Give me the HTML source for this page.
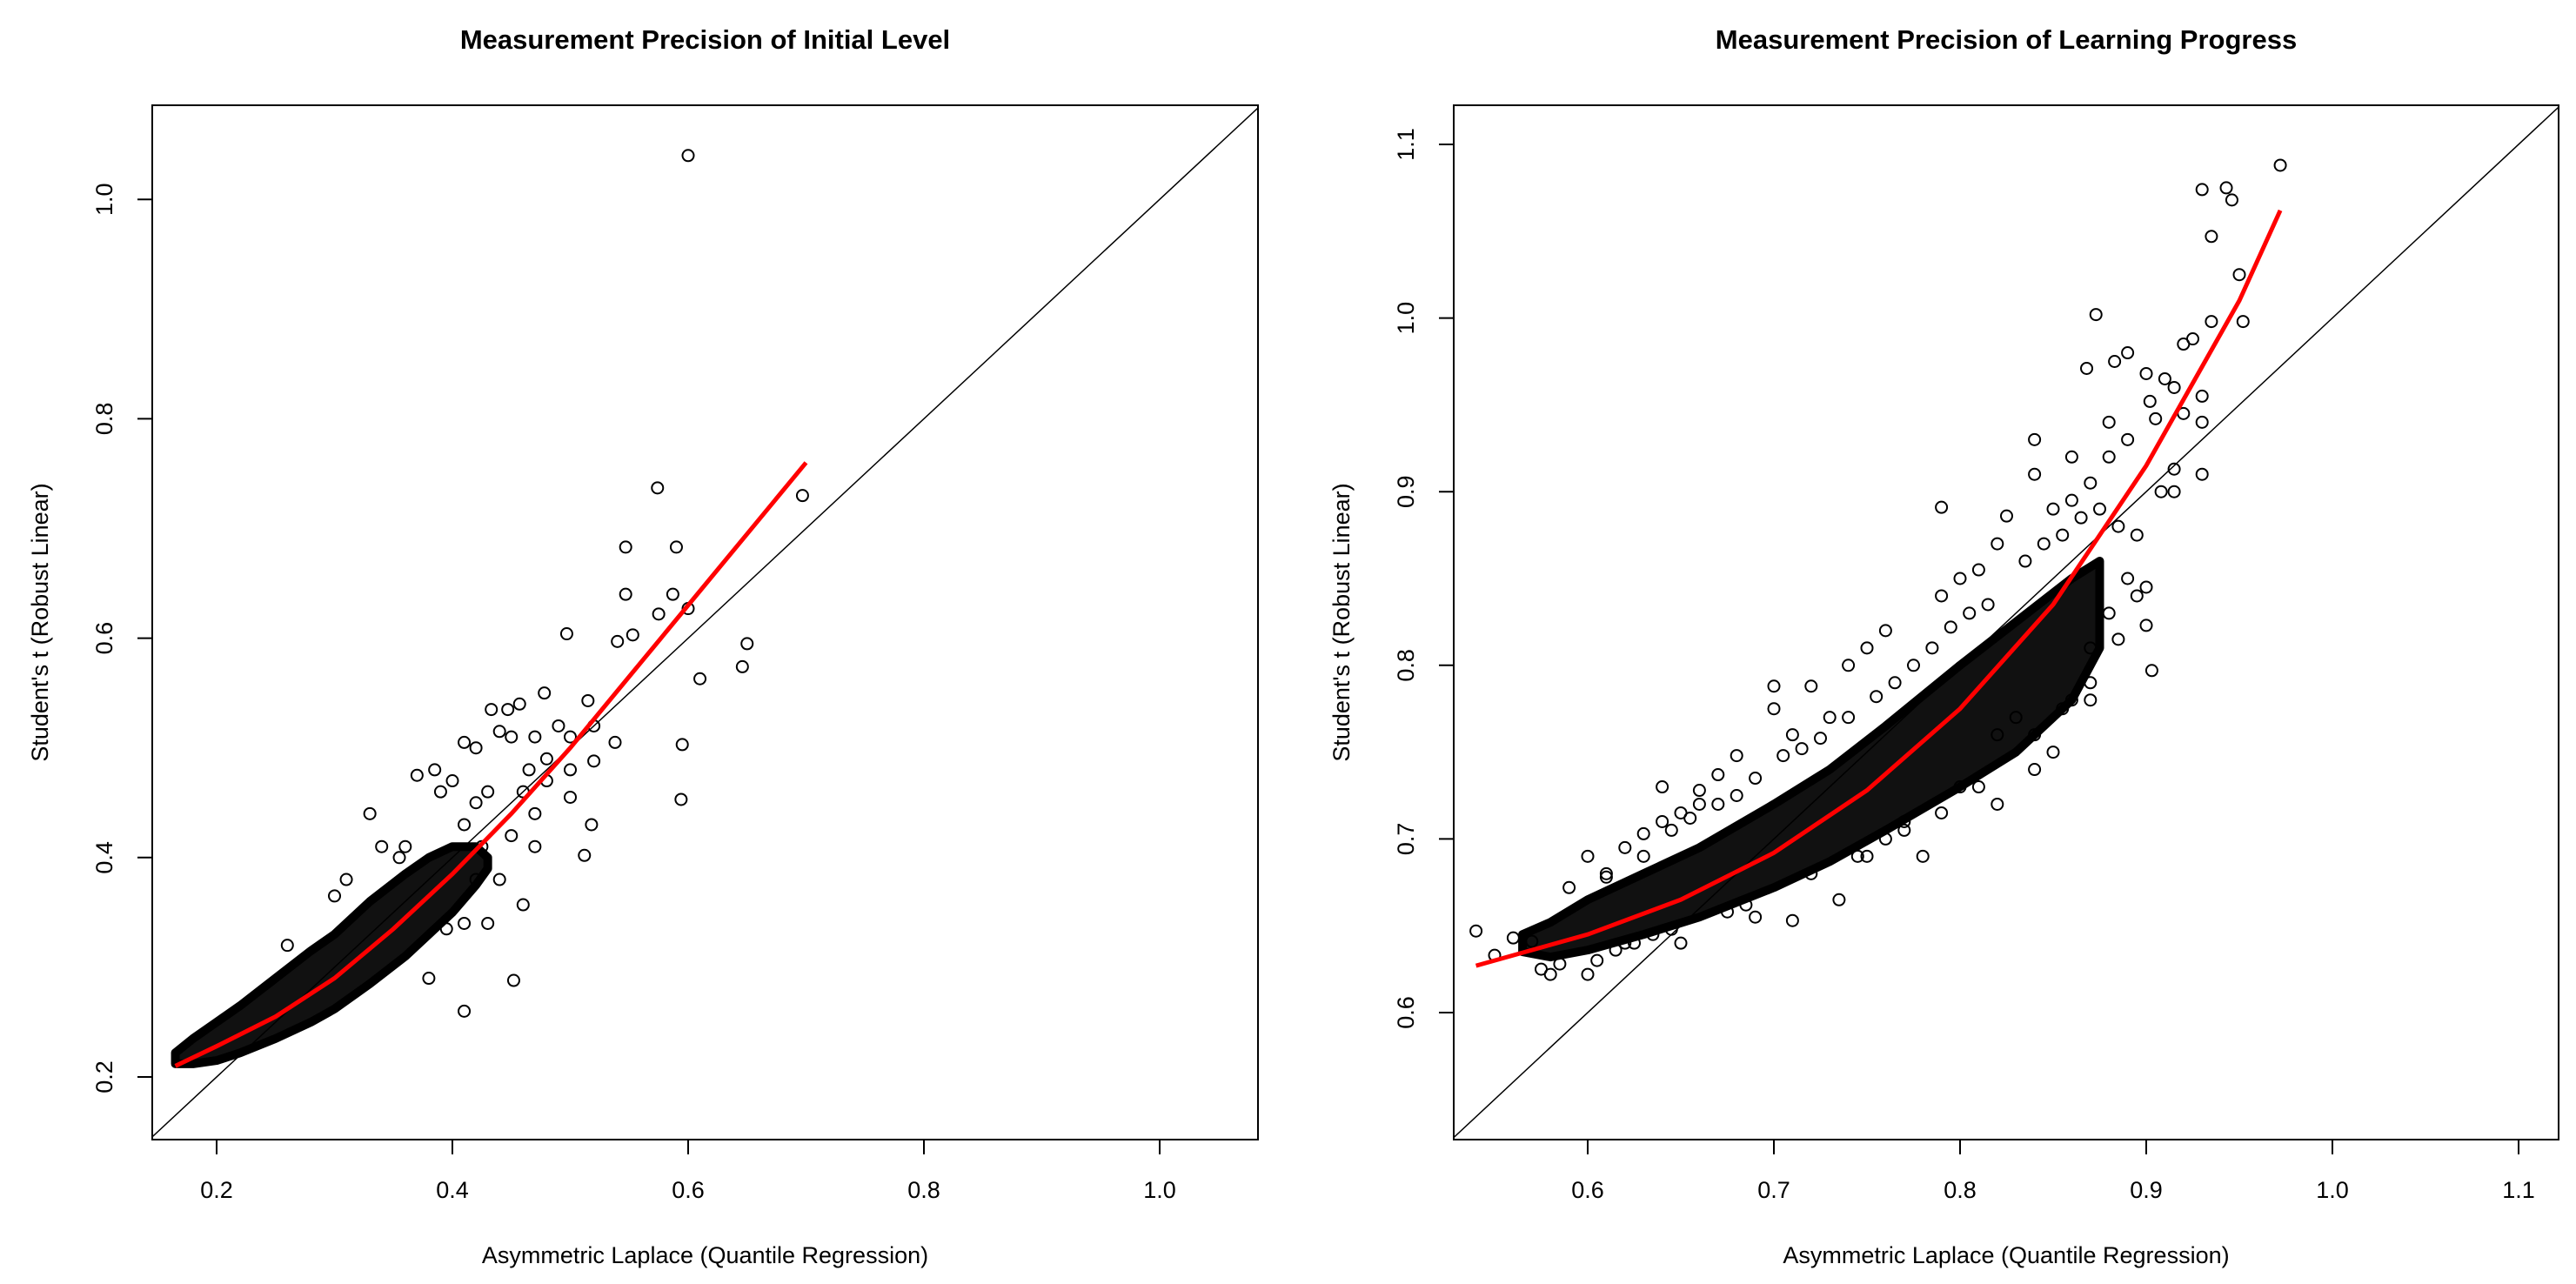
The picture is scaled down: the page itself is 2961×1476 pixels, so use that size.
<!DOCTYPE html>
<html><head><meta charset="utf-8"><style>
html,body{margin:0;padding:0;background:#fff;overflow:hidden}
svg{display:block}
svg text{font-family:"Liberation Sans",sans-serif;fill:#000}
</style></head><body>
<svg id="svg" width="2961" height="1476" xmlns="http://www.w3.org/2000/svg"></svg>
<script>
// ---- Left chart data ----
const L_xticks=[0.2,0.4,0.6,0.8,1.0];
const L_yticks=[0.2,0.4,0.6,0.8,1.0];
const L_bandX=[0.165,0.18,0.2,0.22,0.25,0.28,0.3,0.33,0.36,0.38,0.4,0.42,0.43];
const L_bandLo=[0.212,0.212,0.215,0.222,0.235,0.25,0.262,0.285,0.31,0.33,0.35,0.375,0.39];
const L_bandHi=[0.222,0.235,0.25,0.265,0.29,0.315,0.33,0.36,0.385,0.4,0.41,0.41,0.4];
const L_ptsX=[0.6,0.574,0.697,0.547,0.59,0.547,0.587,0.575,0.6,0.497,0.54,0.553,0.65,0.646,0.61,0.478,0.433,0.447,0.457,0.515,0.595,0.538,0.52,0.594,0.518,0.512,0.41,0.452,0.38,0.33,0.46,0.37,0.385,0.44,0.45,0.47,0.49,0.5,0.48,0.5,0.47,0.465,0.43,0.42,0.41,0.47,0.42,0.4,0.44,0.425,0.39,0.36,0.34,0.355,0.31,0.3,0.26,0.43,0.42,0.45,0.41,0.46,0.48,0.395,0.41,0.5,0.52];
const L_ptsY=[1.04,0.737,0.73,0.683,0.683,0.64,0.64,0.622,0.627,0.604,0.597,0.603,0.595,0.574,0.563,0.55,0.535,0.535,0.54,0.543,0.503,0.505,0.488,0.453,0.43,0.402,0.26,0.288,0.29,0.44,0.357,0.475,0.48,0.515,0.51,0.51,0.52,0.48,0.49,0.455,0.44,0.48,0.46,0.5,0.505,0.41,0.45,0.47,0.38,0.41,0.46,0.41,0.41,0.4,0.38,0.365,0.32,0.34,0.38,0.42,0.43,0.46,0.47,0.335,0.34,0.51,0.52];
const L_fitX=[0.165,0.2,0.25,0.3,0.35,0.4,0.45,0.5,0.55,0.6,0.65,0.7];
const L_fitY=[0.21,0.228,0.255,0.29,0.335,0.385,0.44,0.5,0.565,0.63,0.695,0.76];
// ---- Right chart data ----
const R_xticks=[0.6,0.7,0.8,0.9,1.0,1.1];
const R_yticks=[0.6,0.7,0.8,0.9,1.0,1.1];
const R_bandX=[0.565,0.58,0.6,0.63,0.66,0.7,0.73,0.76,0.8,0.83,0.86,0.875];
const R_bandLo=[0.635,0.632,0.636,0.645,0.655,0.672,0.687,0.705,0.73,0.75,0.78,0.81];
const R_bandHi=[0.645,0.652,0.665,0.68,0.695,0.72,0.74,0.765,0.8,0.825,0.85,0.86];
const R_ptsX=[0.972,0.93,0.943,0.946,0.935,0.95,0.935,0.952,0.873,0.868,0.883,0.89,0.9,0.92,0.925,0.915,0.91,0.93,0.902,0.93,0.92,0.905,0.88,0.84,0.84,0.86,0.93,0.915,0.908,0.915,0.79,0.9,0.9,0.903,0.87,0.82,0.78,0.7,0.7,0.72,0.68,0.64,0.54,0.55,0.56,0.57,0.6,0.58,0.62,0.63,0.71,0.735,0.67,0.66,0.88,0.89,0.87,0.86,0.85,0.825,0.82,0.81,0.8,0.85,0.84,0.86,0.87,0.88,0.89,0.895,0.76,0.75,0.74,0.79,0.65,0.64,0.66,0.6,0.61,0.71,0.73,0.76,0.77,0.8,0.82,0.83,0.69,0.65,0.62,0.75,
 0.59,0.61,0.63,0.645,0.655,0.67,0.68,0.69,0.705,0.715,0.725,0.74,0.755,0.765,0.775,0.785,0.795,0.805,0.815,0.835,0.845,0.855,0.865,0.875,0.885,0.575,0.585,0.605,0.615,0.625,0.635,0.645,0.675,0.685,0.72,0.745,0.77,0.79,0.81,0.84,0.855,0.87,0.885,0.895];
const R_ptsY=[1.088,1.074,1.075,1.068,1.047,1.025,0.998,0.998,1.002,0.971,0.975,0.98,0.968,0.985,0.988,0.96,0.965,0.955,0.952,0.94,0.945,0.942,0.94,0.93,0.91,0.92,0.91,0.913,0.9,0.9,0.891,0.845,0.823,0.797,0.81,0.72,0.69,0.788,0.775,0.788,0.748,0.73,0.647,0.633,0.643,0.641,0.622,0.622,0.695,0.703,0.653,0.665,0.737,0.728,0.92,0.93,0.905,0.895,0.89,0.886,0.87,0.855,0.85,0.75,0.74,0.78,0.78,0.83,0.85,0.875,0.82,0.81,0.8,0.84,0.715,0.71,0.72,0.69,0.68,0.76,0.77,0.7,0.71,0.73,0.76,0.77,0.655,0.64,0.64,0.69,
 0.672,0.678,0.69,0.705,0.712,0.72,0.725,0.735,0.748,0.752,0.758,0.77,0.782,0.79,0.8,0.81,0.822,0.83,0.835,0.86,0.87,0.875,0.885,0.89,0.88,0.625,0.628,0.63,0.636,0.64,0.645,0.648,0.658,0.662,0.68,0.69,0.705,0.715,0.73,0.76,0.775,0.79,0.815,0.84];
const R_fitX=[0.54,0.6,0.65,0.7,0.75,0.8,0.85,0.9,0.95,0.972];
const R_fitY=[0.627,0.645,0.665,0.692,0.728,0.775,0.835,0.915,1.01,1.062];

const NS="http://www.w3.org/2000/svg";
const svg=document.getElementById('svg');
function mk(tag,attrs,parent){const e=document.createElementNS(NS,tag);for(const k in attrs)e.setAttribute(k,attrs[k]);(parent||svg).appendChild(e);return e;}

function chart(cfg){
  const g=mk('g',{});
  
  
  const sx=v=>cfg.x0+(v-cfg.vx0)*cfg.kx;
  const sy=v=>cfg.y0-(v-cfg.vy0)*cfg.ky;
  const clipId=cfg.name+'-clip';
  const cp=mk('clipPath',{id:clipId},g);
  mk('rect',{x:cfg.L,y:cfg.T,width:cfg.R-cfg.L,height:cfg.B-cfg.T},cp);
  const plot=mk('g',{'clip-path':'url(#'+clipId+')'},g);
  
  
  let pts=[];
  for(let i=0;i<cfg.bx.length;i++)pts.push(sx(cfg.bx[i])+','+sy(cfg.bhi[i]));
  for(let i=cfg.bx.length-1;i>=0;i--)pts.push(sx(cfg.bx[i])+','+sy(cfg.blo[i]));
  const band=mk('polygon',{points:pts.join(' '),fill:'#111',stroke:'#000','stroke-width':10,'stroke-linejoin':'round'},plot);
  
  
  const lo=Math.min(cfg.vx0-1,cfg.vy0-1),hi=2;
  const diag=mk('line',{x1:sx(lo),y1:sy(lo),x2:sx(hi),y2:sy(hi),stroke:'#000','stroke-width':1.5},plot);
  
  
  for(let i=0;i<cfg.px.length;i++){
    const c=mk('circle',{cx:sx(cfg.px[i]),cy:sy(cfg.py[i]),r:6.5,fill:'none',stroke:'#000','stroke-width':2},plot);
    
    
  }
  const d=cfg.fx.map((v,i)=>(i?'L':'M')+sx(v)+','+sy(cfg.fy[i])).join(' ');
  const fit=mk('path',{d:d,fill:'none',stroke:'#f00','stroke-width':5},plot);
  
  
  const box=mk('rect',{x:cfg.L,y:cfg.T,width:cfg.R-cfg.L,height:cfg.B-cfg.T,fill:'none',stroke:'#000','stroke-width':2},g);
  
  
  cfg.xt.forEach(v=>{
    const x=sx(v);
    const t=mk('line',{x1:x,y1:cfg.B,x2:x,y2:cfg.B+17,stroke:'#000','stroke-width':2},g);
    
    
    const l=mk('text',{x:x,y:cfg.B+67,'text-anchor':'middle','font-size':27},g);
    l.textContent=v.toFixed(1);
    
    
  });
  cfg.yt.forEach(v=>{
    const y=sy(v);
    const t=mk('line',{x1:cfg.L-17,y1:y,x2:cfg.L,y2:y,stroke:'#000','stroke-width':2},g);
    
    
    const l=mk('text',{x:cfg.L-46,y:y,'text-anchor':'middle','font-size':27,transform:'rotate(-90 '+(cfg.L-46)+' '+y+')'},g);
    l.textContent=v.toFixed(1);
    
    
  });
  const cx=(cfg.L+cfg.R)/2;
  const ti=mk('text',{x:cx,y:56,'text-anchor':'middle','font-size':31,'font-weight':'bold'},g);
  ti.textContent=cfg.title;
  
  
  const xl=mk('text',{x:cx,y:1452,'text-anchor':'middle','font-size':27},g);
  xl.textContent='Asymmetric Laplace (Quantile Regression)';
  
  
  const my=(cfg.T+cfg.B)/2, ax=cfg.L-120;
  const yl=mk('text',{x:ax,y:my,'text-anchor':'middle','font-size':27,transform:'rotate(-90 '+ax+' '+my+')'},g);
  yl.textContent="Student's t (Robust Linear)";
  
  
}
chart({name:'initial-level-chart',title:'Measurement Precision of Initial Level',L:175,R:1446,T:121,B:1310,
  x0:249,vx0:0.2,kx:1355,y0:1238,vy0:0.2,ky:1261,xt:L_xticks,yt:L_yticks,
  bx:L_bandX,blo:L_bandLo,bhi:L_bandHi,px:L_ptsX,py:L_ptsY,fx:L_fitX,fy:L_fitY});
chart({name:'learning-progress-chart',title:'Measurement Precision of Learning Progress',L:1671,R:2941,T:121,B:1310,
  x0:1825,vx0:0.6,kx:2140,y0:1164,vy0:0.6,ky:1996,xt:R_xticks,yt:R_yticks,
  bx:R_bandX,blo:R_bandLo,bhi:R_bandHi,px:R_ptsX,py:R_ptsY,fx:R_fitX,fy:R_fitY});
</script>
</body></html>
